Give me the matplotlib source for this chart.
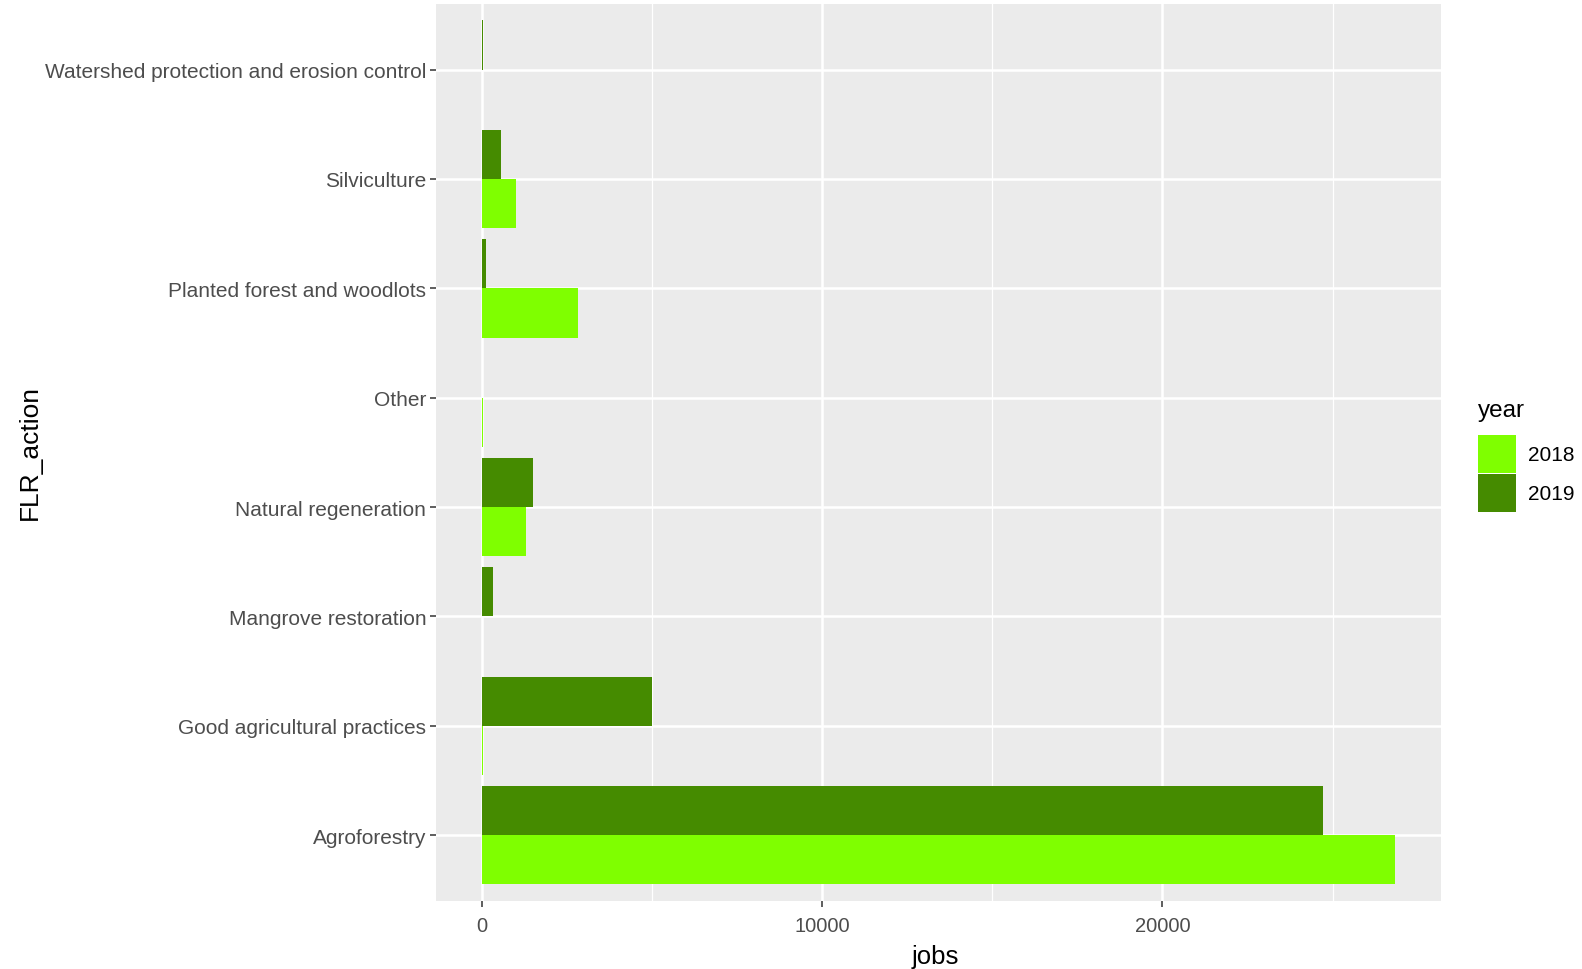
import numpy as np
import matplotlib.pyplot as plt
from matplotlib.patches import Patch

plt.rcParams['font.family'] = ['Liberation Sans', 'DejaVu Sans']

# data (bottom to top)
actions = ['Agroforestry', 'Good agricultural practices', 'Mangrove restoration',
           'Natural regeneration', 'Other', 'Planted forest and woodlots',
           'Silviculture', 'Watershed protection and erosion control']
jobs_2018 = [26840, 40, 0, 1310, 30, 2840, 1020, 0]
jobs_2019 = [24730, 5000, 330, 1520, 0, 135, 570, 40]
years = ['2018', '2019']
colors = ['#7FFF00', '#458B00']

W, H = 1582, 970
fig = plt.figure(figsize=(W / 100, H / 100), dpi=100)
ax = fig.add_axes([436 / W, 1 - 901.7 / H, (1441 - 436) / W, (901.7 - 5) / H])

y = np.arange(1, len(actions) + 1)
h = 0.45
ax.barh(y - h / 2, jobs_2018, height=h, color=colors[0], zorder=3)
ax.barh(y + h / 2, jobs_2019, height=h, color=colors[1], zorder=3)

# ggplot-like look
ax.set_facecolor('#EBEBEB')
for s in ax.spines.values():
    s.set_visible(False)
xmax = max(max(jobs_2018), max(jobs_2019))
ax.set_xlim(-0.05 * xmax, 1.05 * xmax)
ax.set_ylim(0.4, len(actions) + 0.6)
ax.set_xticks([0, 10000, 20000])
ax.set_xticks([5000, 15000, 25000], minor=True)
ax.set_yticks(y)
ax.set_yticklabels(actions)
ax.grid(which='major', color='white', lw=1.8, zorder=0)
ax.grid(which='minor', axis='x', color='white', lw=0.9, zorder=0)
ax.tick_params(which='major', color='#333333', length=4.0, width=1.1,
               labelcolor='#4D4D4D')
ax.tick_params(axis='y', labelsize=15, pad=3)
ax.tick_params(axis='x', labelsize=14.5, pad=7)
ax.tick_params(which='minor', length=0)

# axis titles placed like the ggplot output
fig.text(935 / W, 1 - 957 / H, 'jobs', fontsize=18.5, ha='center', va='center')
fig.text(30 / W, 1 - 453 / H, 'FLR_action', fontsize=19, rotation=90,
         ha='center', va='center')

handles = [Patch(facecolor=c, edgecolor='none') for c in colors]
leg = fig.legend(handles, years, title='year', loc='upper left',
                 bbox_to_anchor=(1470 / W, 1 - 392 / H), frameon=False,
                 fontsize=15, title_fontsize=17.5, handlelength=1.82, handleheight=2.45,
                 labelspacing=0.05, handletextpad=0.55, borderaxespad=0)
leg._legend_box.align = 'left'
leg._legend_box.sep = 9.5  # gap between title and keys

plt.savefig('out.png', dpi=100)
